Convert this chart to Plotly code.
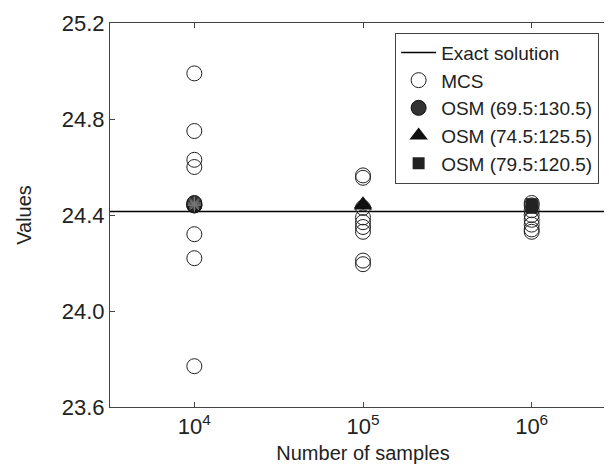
import plotly.graph_objects as go

# Data
exact_value = 24.415
x_limits = [10**3.5, 10**6.5]

mcs_n = [1e4]*8 + [1e5]*9 + [1e6]*8
mcs_vals = [24.99, 24.75, 24.63, 24.60, 24.44, 24.32, 24.22, 23.77,
            24.565, 24.555, 24.43, 24.39, 24.37, 24.35, 24.33, 24.21, 24.195,
            24.45, 24.44, 24.42, 24.40, 24.38, 24.36, 24.34, 24.33]

osm1_n = [1e4, 1e4, 1e4]
osm1_vals = [24.44, 24.445, 24.45]
osm2_n = [1e5, 1e5]
osm2_vals = [24.44, 24.445]
osm3_n = [1e6, 1e6, 1e6]
osm3_vals = [24.43, 24.44, 24.445]

xtick_vals = [1e4, 1e5, 1e6]
xtick_text = ["10<sup>4</sup>", "10<sup>5</sup>", "10<sup>6</sup>"]
ytick_vals = [23.6, 24.0, 24.4, 24.8, 25.2]
ytick_text = ["23.6", "24.0", "24.4", "24.8", "25.2"]

font = "Liberation Sans, Arial, sans-serif"
ink = "#222222"

fig = go.Figure()
fig.add_trace(go.Scatter(x=x_limits, y=[exact_value, exact_value], mode="lines",
                         line=dict(color="black", width=1.5), name="Exact solution"))
fig.add_trace(go.Scatter(x=mcs_n, y=mcs_vals, mode="markers", name="MCS",
                         marker=dict(symbol="circle-open", size=15, color=ink,
                                     line=dict(width=1, color=ink))))
fig.add_trace(go.Scatter(x=osm1_n, y=osm1_vals, mode="markers", name="OSM (69.5:130.5)",
                         legendgroup="osm1",
                         marker=dict(symbol="circle", size=15, color="#333333",
                                     line=dict(width=1, color="#111111"))))
fig.add_trace(go.Scatter(x=osm1_n, y=osm1_vals, mode="markers", showlegend=False,
                         legendgroup="osm1", hoverinfo="skip",
                         marker=dict(symbol="asterisk-open", size=11, color="#777777",
                                     line=dict(width=1, color="#777777"))))
fig.add_trace(go.Scatter(x=osm2_n, y=osm2_vals, mode="markers", name="OSM (74.5:125.5)",
                         marker=dict(symbol="triangle-up", size=16, color="#111111",
                                     line=dict(width=0))))
fig.add_trace(go.Scatter(x=osm3_n, y=osm3_vals, mode="markers", name="OSM (79.5:120.5)",
                         marker=dict(symbol="square", size=12, color="#222222",
                                     line=dict(width=0))))

axis_common = dict(showline=True, linecolor="#444444", linewidth=1, mirror="ticks",
                   ticks="inside", ticklen=5, tickcolor="#444444", showgrid=False,
                   zeroline=False, ticklabeloverflow="allow",
                   tickfont=dict(family=font, size=22, color=ink))

fig.update_layout(
    width=612, height=471,
    margin=dict(l=102, r=3, t=12, b=72),
    paper_bgcolor="white", plot_bgcolor="white",
    font=dict(family=font, size=20, color=ink),
    xaxis=dict(type="log", range=[3.5, 6.5], tickvals=xtick_vals, ticktext=xtick_text,
               title=dict(text="Number of samples", font=dict(size=20), standoff=7),
               **axis_common),
    yaxis=dict(range=[23.6, 25.2], tickvals=ytick_vals, ticktext=ytick_text,
               title=dict(text="Values", font=dict(size=20), standoff=24),
               **axis_common),
    legend=dict(x=0.5635, y=0.975, xanchor="left", yanchor="top",
                bgcolor="white", bordercolor="#444444", borderwidth=1,
                font=dict(family=font, size=19, color=ink),
                tracegroupgap=0, itemwidth=35),
    showlegend=True,
)

fig.write_html("out.html")
